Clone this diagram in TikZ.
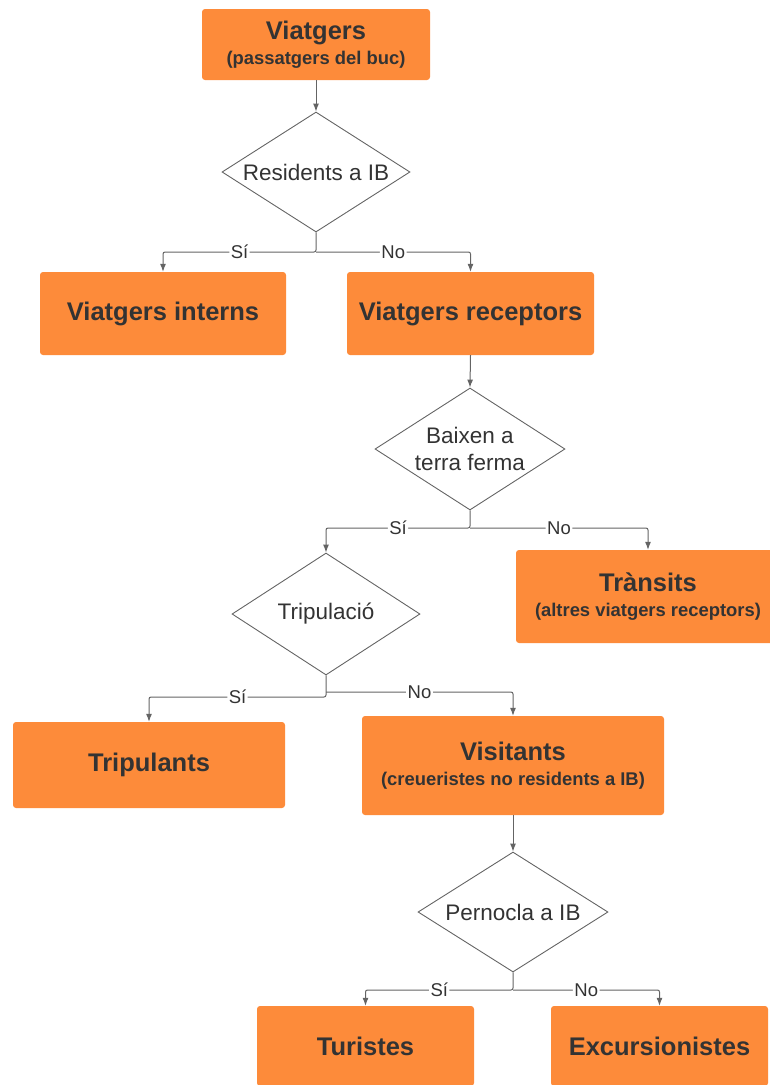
\documentclass[tikz,border=0pt]{standalone}
\usepackage{fontspec}
\setmainfont{Liberation Sans}
\usetikzlibrary{shapes.geometric,arrows.meta}
\definecolor{boxorange}{RGB}{253,139,58}
\definecolor{txt}{RGB}{51,51,51}
\definecolor{linegray}{RGB}{100,100,100}
\newcommand{\subfnt}{\fontsize{18.4}{23}\selectfont}
\begin{document}
\begin{tikzpicture}[x=1pt,y=-1pt,
 box/.style={fill=boxorange, rounded corners=3pt, inner sep=0pt, text=txt, align=center,
   font=\bfseries\fontsize{25.5}{29}\selectfont},
 dec/.style={diamond, aspect=1.6, draw=linegray, line width=0.9pt, inner sep=0pt, text=txt, align=center,
   font=\fontsize{22.5}{27}\selectfont},
 conn/.style={draw=linegray, line width=1pt, rounded corners=2pt, -{Latex[length=8pt,width=6pt]}},
 lab/.style={fill=white, inner sep=1.5pt, text=txt, font=\fontsize{18.5}{20}\selectfont, pos=0.25}
]
\useasboundingbox (0,0) rectangle (770,1085);
\clip (0,0) rectangle (770,1085);

% boxes
\node[box, minimum width=228pt, minimum height=71pt] (v) at (316,44.5) {Viatgers\\[-4pt] \subfnt (passatgers del buc)};
\node[box, minimum width=246pt, minimum height=83pt] (vi) at (163,313.5) {Viatgers interns};
\node[box, minimum width=247pt, minimum height=83pt] (vr) at (470.5,313.5) {Viatgers receptors};
\node[box, minimum width=264pt, minimum height=93pt] (tr) at (648,596.5) {Tr\`ansits\\[-4pt] \subfnt (altres viatgers receptors)};
\node[box, minimum width=272pt, minimum height=86pt] (tp) at (149,765) {Tripulants};
\node[box, minimum width=302pt, minimum height=99pt] (vs) at (513,765.5) {Visitants\\[-4pt] \subfnt (creueristes no residents a IB)};
\node[box, minimum width=217pt, minimum height=80pt] (tu) at (365.5,1046) {Turistes};
\node[box, minimum width=217pt, minimum height=80pt] (ex) at (659.5,1046) {Excursionistes};

% decisions
\node[dec, minimum width=188pt, minimum height=120pt] (d1) at (316,172) {Residents a IB};
\node[dec, minimum width=190pt, minimum height=122pt] (d2) at (470,449) {Baixen a\\terra ferma};
\node[dec, minimum width=188pt, minimum height=122pt] (d3) at (326,614) {Tripulaci\'o};
\node[dec, minimum width=190pt, minimum height=120pt] (d4) at (513,912) {Pernocla a IB};

% junctions
\coordinate (j1) at (316,252);
\coordinate (j2) at (470,528);
\coordinate (j3a) at (326,697);
\coordinate (j3b) at (326,692);
\coordinate (j4) at (513,990);

% connectors
\draw[conn] (v.south) -- (d1.north);
\draw[conn] (d1.south) -- (j1) -| node[lab]{Sí} (vi.north);
\draw[conn] (j1) -| node[lab]{No} (vr.north);
\draw[conn] (vr.south) -- (d2.north);
\draw[conn] (d2.south) -- (j2) -| node[lab]{Sí} (d3.north);
\draw[conn] (j2) -| node[lab]{No} (tr.north);
\draw[conn] (d3.south) -- (j3a) -| node[lab]{Sí} (tp.north);
\draw[conn] (j3b) -| node[lab]{No} (vs.north);
\draw[conn] (vs.south) -- (d4.north);
\draw[conn] (d4.south) -- (j4) -| node[lab]{Sí} (tu.north);
\draw[conn] (j4) -| node[lab]{No} (ex.north);
\end{tikzpicture}
\end{document}
